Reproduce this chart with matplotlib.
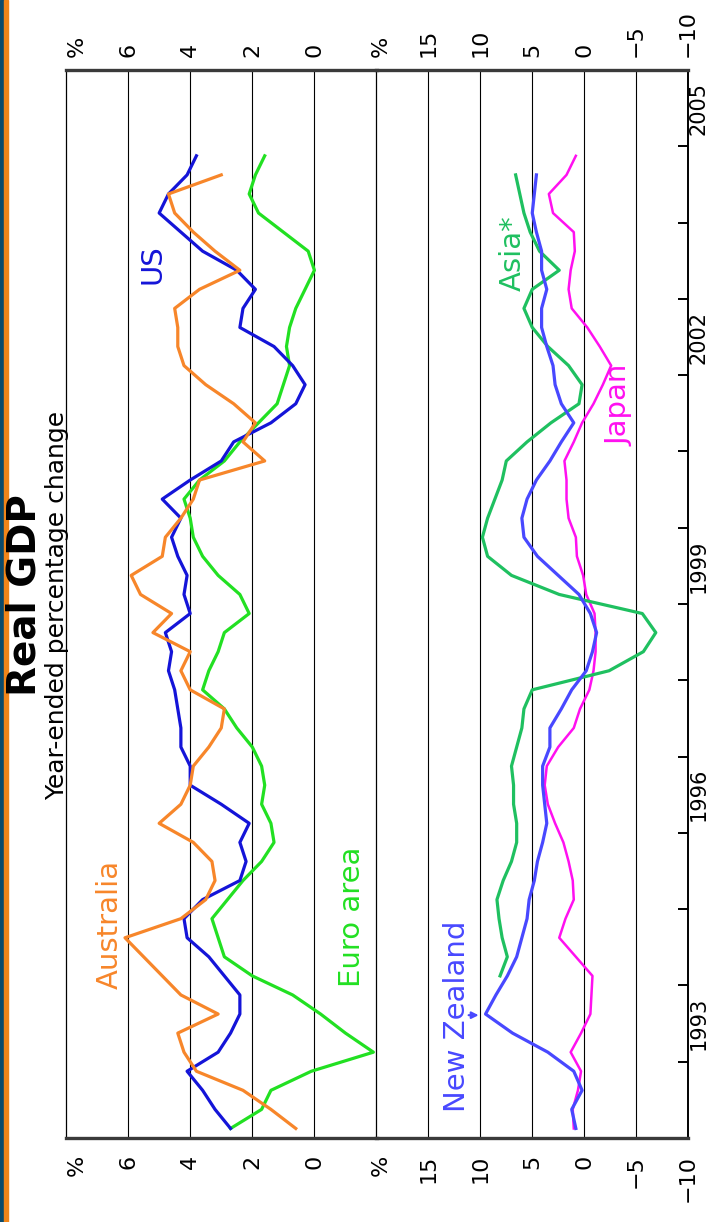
import matplotlib
matplotlib.use('Agg')
import matplotlib.pyplot as plt
import matplotlib.transforms as mtransforms
from matplotlib.patches import Rectangle
import numpy as np

# quarterly year-ended growth, 1992 Q1 onwards (plotted mid-quarter)
quarters = 1992.125 + 0.25 * np.arange(52)

australia = [0.6, 1.4, 2.3, 3.8, 4.2, 4.4, 3.1, 4.3, 4.9, 5.5, 6.1, 4.3, 3.5,
             3.2, 3.3, 3.9, 5.0, 4.3, 4.0, 3.9, 3.4, 3.0, 2.9, 4.0, 4.3, 4.0,
             5.2, 4.6, 5.6, 5.9, 4.9, 4.8, 4.3, 3.9, 3.7, 1.6, 2.3, 1.9, 2.6,
             3.5, 4.2, 4.4, 4.4, 4.5, 3.7, 2.4, 3.2, 3.9, 4.5, 4.7, 3.0]
us = [2.7, 3.2, 3.6, 4.1, 3.1, 2.7, 2.4, 2.4, 2.9, 3.4, 4.1, 4.2, 3.6, 2.4,
      2.2, 2.4, 2.1, 3.0, 4.0, 4.0, 4.3, 4.3, 4.4, 4.5, 4.7, 4.6, 4.8, 4.0,
      4.2, 4.1, 4.4, 4.6, 4.3, 4.9, 4.0, 3.0, 2.6, 1.4, 0.6, 0.3, 0.7, 1.3,
      2.4, 2.3, 1.9, 2.5, 3.6, 4.3, 5.0, 4.7, 4.1, 3.8]
euro = [2.7, 1.7, 1.4, 0.1, -1.9, -1.0, -0.2, 0.7, 2.0, 2.9, 3.1, 3.3, 2.8,
        2.3, 1.7, 1.3, 1.4, 1.7, 1.6, 1.7, 2.0, 2.5, 2.9, 3.6, 3.4, 3.1, 2.9,
        2.1, 2.4, 3.1, 3.6, 3.9, 4.0, 4.2, 3.7, 2.9, 2.4, 1.8, 1.2, 1.0, 0.8,
        0.9, 0.8, 0.6, 0.3, 0.0, 0.2, 1.0, 1.8, 2.1, 1.9, 1.6]
new_zealand = [0.8, 1.2, 0.2, 1.0, 3.5, 6.9, 9.5, 8.5, 7.4, 6.5, 6.0, 5.5,
               5.3, 4.8, 4.5, 4.0, 3.6, 3.8, 4.0, 4.0, 3.3, 3.3, 2.2, 1.2,
               -0.2, -0.8, -1.2, -0.6, 0.5, 2.5, 4.5, 5.8, 6.0, 5.5, 4.6, 3.3,
               2.2, 1.0, 2.2, 2.8, 3.0, 3.6, 4.1, 4.1, 3.6, 4.1, 4.1, 4.6,
               5.0, 4.8, 4.6]
# Asia* starts in 1994 Q1
asia = [8.1, 7.4, 7.9, 8.2, 8.4, 7.8, 7.0, 6.5, 6.5, 6.8, 6.8, 7.0, 6.5, 6.0,
        5.8, 5.0, -2.4, -5.7, -6.9, -5.6, 2.4, 7.0, 9.3, 9.8, 9.3, 8.6, 7.9,
        7.5, 5.5, 3.2, 0.5, 0.2, 1.5, 3.5, 5.0, 5.8, 5.0, 2.4, 4.3, 5.2, 5.8,
        6.2, 6.6]
japan = [1.0, 1.1, 0.6, 0.3, 1.3, 0.3, -0.6, -0.7, -0.8, 0.8, 2.4, 1.8, 1.0,
         1.1, 1.5, 2.0, 2.8, 3.5, 3.8, 3.6, 2.5, 1.0, 0.4, -0.5, -0.9, -1.1,
         -1.1, -1.0, -0.2, 0.1, 0.7, 0.8, 1.5, 1.7, 1.7, 1.9, 1.0, 0.2, -0.9,
         -1.8, -2.6, -1.5, -0.3, 1.2, 1.5, 1.3, 0.9, 1.0, 3.0, 3.4, 1.7, 0.8]

top_ticks = [6, 4, 2, 0]
low_ticks = [15, 10, 5, 0, -5, -10]
year_labels = [1993, 1996, 1999, 2002, 2005]

c_aus = '#f7862a'
c_us = '#1414d8'
c_euro = '#22e022'
c_nz = '#4848ff'
c_asia = '#1fc060'
c_jap = '#ff10f0'

W, H = 709, 1222
fig = plt.figure(figsize=(W / 100, H / 100), dpi=100)


def box(x0, x1, y0, y1):
    return [x0 / W, 1 - y1 / H, (x1 - x0) / W, (y1 - y0) / H]


# slide edge on the left
fig.patches.append(Rectangle((0, 0), 4 / W, 1, transform=fig.transFigure, color='#0b4a6b', zorder=0))
fig.patches.append(Rectangle((4 / W, 0), 4 / W, 1, transform=fig.transFigure, color='#f08519', zorder=0))

# chart is drawn turned on its side: time runs upwards, values leftwards
ax1 = fig.add_axes(box(66, 376.5, 70, 1138))
ax2 = fig.add_axes(box(376.5, 688, 70, 1138))
ax2.patch.set_alpha(0)
ax1.set_xlim(8, -2)
ax2.set_xlim(20, -10)
for ax in (ax1, ax2):
    ax.set_ylim(1992, 2006)
    ax.set_xticks([])
    ax.set_yticks([])
    for s in ('top', 'bottom'):
        ax.spines[s].set_linewidth(2.4)
        ax.spines[s].set_color('#3a3a3a')
    ax.spines['left'].set_linewidth(0.9)
    ax.spines['right'].set_linewidth(0.9)
ax2.spines['left'].set_visible(False)
ax2.spines['right'].set_linewidth(1.4)

for v in top_ticks:
    ax1.axvline(v, color='black', lw=0.8, zorder=1)
for v in low_ticks[:-1]:
    ax2.axvline(v, color='black', lw=0.8, zorder=1)

# year ticks, inward on the original time axis
ax2.yaxis.tick_right()
ax2.set_yticks(range(1993, 2006))
ax2.tick_params(axis='y', direction='in', length=7, width=1.4, labelright=False)

lw = 2.3
ax1.plot(euro, quarters[:len(euro)], color=c_euro, lw=lw, zorder=3)
ax1.plot(us, quarters[:len(us)], color=c_us, lw=lw, zorder=4)
ax1.plot(australia, quarters[:len(australia)], color=c_aus, lw=lw, zorder=5)
ax2.plot(japan, quarters[:len(japan)], color=c_jap, lw=1.8, zorder=3)
ax2.plot(asia, quarters[8:8 + len(asia)], color=c_asia, lw=lw, zorder=4)
ax2.plot(new_zealand, quarters[:len(new_zealand)], color=c_nz, lw=lw, zorder=5)

# value labels at both ends (original left and right axes)
fs = 16
tr1 = mtransforms.blended_transform_factory(ax1.transData, fig.transFigure)
tr2 = mtransforms.blended_transform_factory(ax2.transData, fig.transFigure)
for tr, labels in ((tr1, [(7.65, '%')] + [(v, str(v)) for v in top_ticks]),
                   (tr2, [(19.6, '%')] + [(v, str(v).replace('-', '\u2212')) for v in low_ticks])):
    for v, s in labels:
        fig.text(v, 1 - 57 / H, s, transform=tr, rotation=90, ha='center', va='bottom', fontsize=fs)
        fig.text(v, 1 - 1155 / H, s, transform=tr, rotation=90, ha='center', va='top', fontsize=fs)

ytr = mtransforms.blended_transform_factory(fig.transFigure, ax2.transData)
for yr in year_labels:
    fig.text(699 / W, yr + 0.5, str(yr), transform=ytr, rotation=90, ha='center', va='center', fontsize=15)

# titles
fig.text(25 / W, 1 - 595 / H, 'Real GDP', rotation=90, ha='center', va='center',
         fontsize=28, fontweight='bold')
fig.text(57 / W, 1 - 605 / H, 'Year-ended percentage change', rotation=90, ha='center',
         va='center', fontsize=18)

# series names
ax1.text(6.6, 1994.8, 'Australia', color=c_aus, rotation=90, ha='center', va='center', fontsize=21)
ax1.text(5.2, 2003.45, 'US', color=c_us, rotation=90, ha='center', va='center', fontsize=21)
ax1.text(-1.2, 1994.9, 'Euro area', color=c_euro, rotation=90, ha='center', va='center', fontsize=21)
ax2.text(12.2, 1993.6, 'New Zealand', color=c_nz, rotation=90, ha='center', va='center', fontsize=21)
ax2.text(6.9, 2003.6, 'Asia*', color=c_asia, rotation=90, ha='center', va='center', fontsize=21)
ax2.text(-3.4, 2001.6, 'Japan', color=c_jap, rotation=90, ha='center', va='center', fontsize=21)
ax2.annotate('', xy=(9.9, 1993.61), xytext=(11.4, 1993.61),
             arrowprops=dict(arrowstyle='-|>', color=c_nz, lw=1.5, mutation_scale=10))

fig.savefig('out.png', dpi=100)
